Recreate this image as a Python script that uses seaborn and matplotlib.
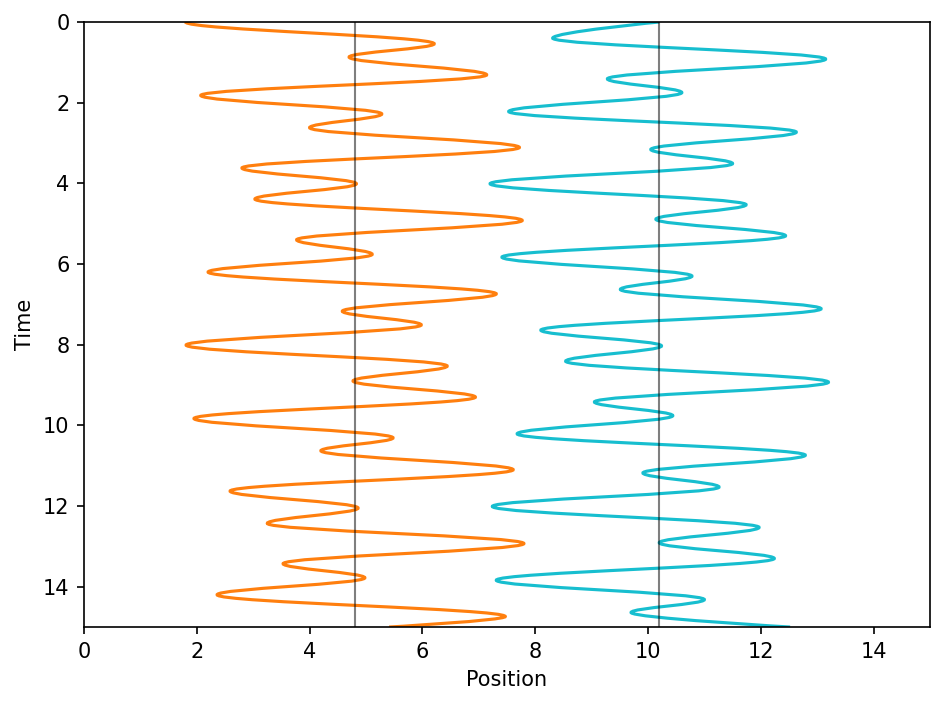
import matplotlib
matplotlib.use("Agg")
import matplotlib.pyplot as plt
from matplotlib.path import Path
from matplotlib.patches import PathPatch
import seaborn as sns


# turning points (time, position)
orange_t = [0.0, 0.54, 0.87, 1.31, 1.82, 2.28, 2.62, 3.11, 3.62, 4.01, 4.39, 4.92,
            5.40, 5.76, 6.20, 6.74, 7.17, 7.51, 8.01, 8.53, 8.90, 9.30, 9.83, 10.31,
            10.63, 11.10, 11.63, 12.05, 12.43, 12.93, 13.43, 13.78, 14.20, 14.74, 15.0]
orange_x = [1.80, 6.21, 4.70, 7.14, 2.07, 5.28, 4.00, 7.72, 2.80, 4.83, 3.03, 7.77,
            3.77, 5.11, 2.20, 7.31, 4.58, 5.98, 1.81, 6.44, 4.77, 6.94, 1.95, 5.48,
            4.20, 7.61, 2.59, 4.86, 3.25, 7.80, 3.53, 4.98, 2.36, 7.47, 5.41]

cyan_t = [0.0, 0.40, 0.92, 1.41, 1.75, 2.22, 2.73, 3.16, 3.51, 4.01, 4.53, 4.89,
          5.30, 5.83, 6.30, 6.63, 7.11, 7.64, 8.03, 8.41, 8.93, 9.42, 9.76, 10.21,
          10.74, 11.18, 11.53, 12.01, 12.53, 12.91, 13.30, 13.84, 14.32, 14.64, 15.0]
cyan_x = [10.20, 8.31, 13.15, 9.28, 10.60, 7.53, 12.63, 10.05, 11.50, 7.20, 11.74, 10.14,
          12.44, 7.41, 10.78, 9.51, 13.07, 8.10, 10.24, 8.54, 13.20, 9.05, 10.44, 7.68,
          12.79, 9.91, 11.26, 7.24, 11.97, 10.20, 12.24, 7.31, 11.00, 9.70, 12.52]

centers = [4.8, 10.2]

K = 0.364  # bezier handle length, gives a near-sine swing between turning points


def wave_path(xs, ts, flat_start=True, flat_end=True):
    verts = [(xs[0], ts[0])]
    codes = [Path.MOVETO]
    n = len(ts)
    for i in range(n - 1):
        dt = ts[i + 1] - ts[i]
        if i > 0 or flat_start:
            c1 = (xs[i], ts[i] + K * dt)
        else:
            c1 = (xs[i], ts[i])
        if i + 1 < n - 1 or flat_end:
            c2 = (xs[i + 1], ts[i + 1] - K * dt)
        else:
            c2 = (xs[i + 1], ts[i + 1])
        verts += [c1, c2, (xs[i + 1], ts[i + 1])]
        codes += [Path.CURVE4] * 3
    return Path(verts, codes)


colors = sns.color_palette("tab10")
orange, cyan = colors[1], colors[9]

fig = plt.figure(figsize=(6.3, 4.7), dpi=150)
ax = fig.add_axes([0.0889, 0.1106, 0.8952, 0.8582])

ax.add_patch(PathPatch(wave_path(orange_x, orange_t, True, False),
                       fill=False, edgecolor=orange, lw=1.5))
ax.add_patch(PathPatch(wave_path(cyan_x, cyan_t, False, False),
                       fill=False, edgecolor=cyan, lw=1.5))

for c in centers:
    ax.axvline(c, color="k", alpha=0.5, lw=1)

ax.set_xlim(0, 15)
ax.set_ylim(15, 0)
ax.set_xlabel("Position")
ax.set_ylabel("Time")

fig.savefig("out.png", dpi=150)
